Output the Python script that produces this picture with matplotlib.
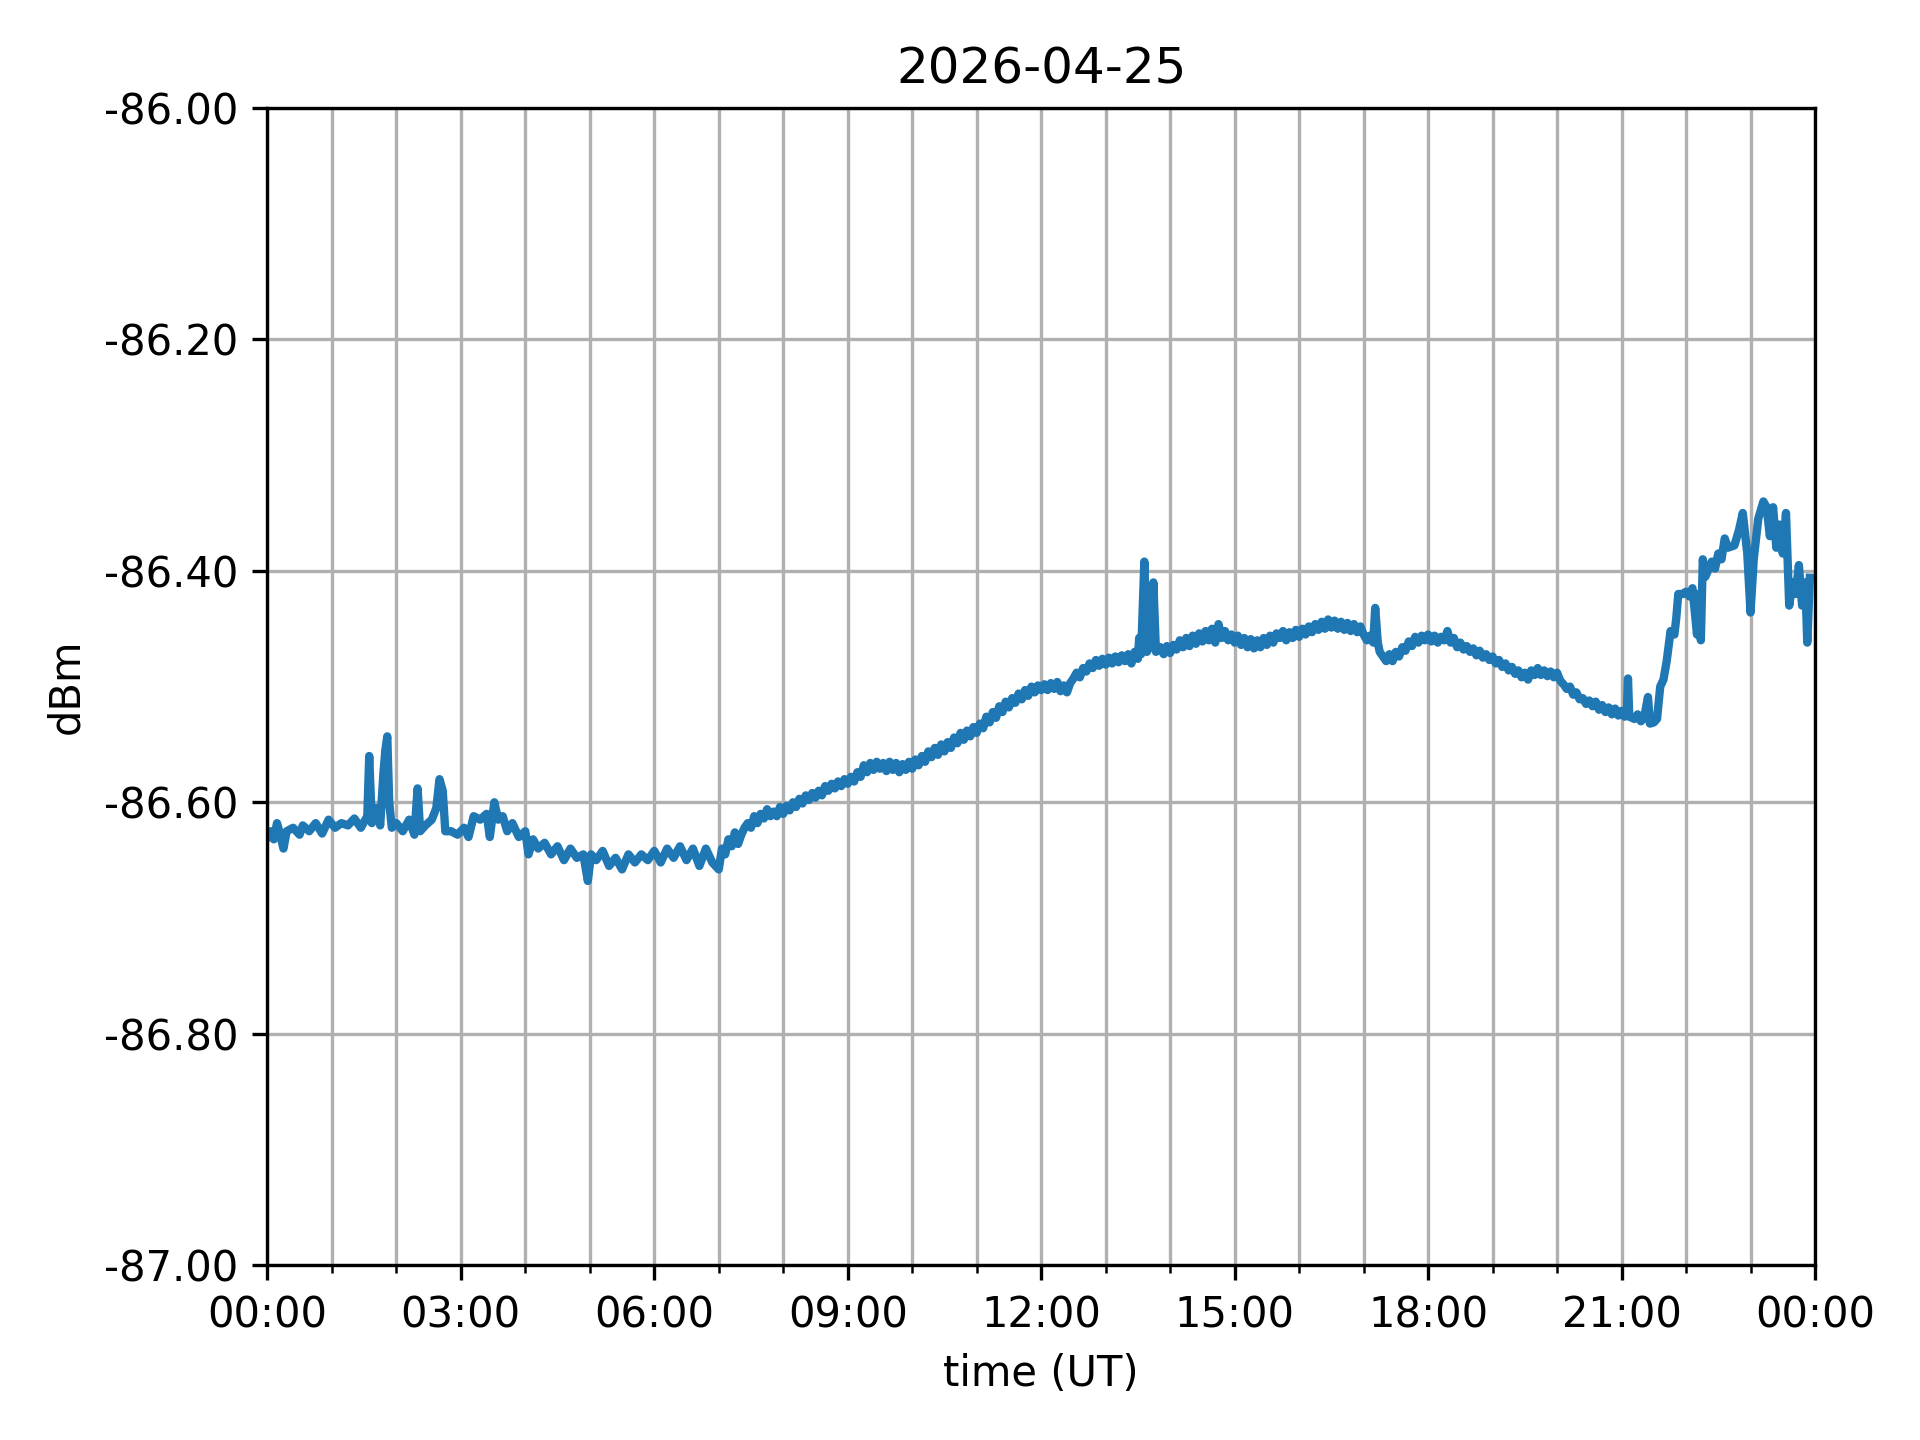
import numpy as np
import pandas as pd
import matplotlib
matplotlib.use('Agg')
import matplotlib.pyplot as plt
import matplotlib.dates as mdates
from matplotlib.ticker import FormatStrFormatter

day = '2026-04-25'

# hours after midnight (UT) and received level in dBm
hours = [
    0.00, 0.05, 0.10, 0.15, 0.20, 0.25, 0.30, 0.40, 0.50, 0.55, 0.65, 0.75, 0.85, 0.95,
    1.05, 1.15, 1.25, 1.35, 1.45, 1.55, 1.58, 1.62, 1.70, 1.75, 1.80, 1.83, 1.86, 1.89, 1.93,
    2.00, 2.10, 2.20, 2.28, 2.33, 2.37, 2.45, 2.55, 2.62, 2.67, 2.72, 2.76, 2.85, 2.95,
    3.05, 3.12, 3.20, 3.30, 3.40, 3.45, 3.52, 3.58, 3.65, 3.72, 3.80, 3.90,
    4.00, 4.05, 4.12, 4.20, 4.30, 4.40, 4.50, 4.60, 4.70, 4.80, 4.90, 4.97,
    5.02, 5.10, 5.20, 5.30, 5.40, 5.50, 5.60, 5.70, 5.80, 5.90,
    6.00, 6.10, 6.20, 6.30, 6.40, 6.50, 6.60, 6.70, 6.80, 6.90,
    7.00, 7.05, 7.10, 7.15, 7.20, 7.25, 7.30, 7.35, 7.40, 7.45, 7.50, 7.55, 7.60, 7.65, 7.70, 7.75, 7.80, 7.85, 7.90, 7.95,
    8.00, 8.05, 8.10, 8.15, 8.20, 8.25, 8.30, 8.35, 8.40, 8.45, 8.50, 8.55, 8.60, 8.65, 8.70, 8.75, 8.80, 8.85, 8.90, 8.95,
    9.00, 9.05, 9.10, 9.15, 9.20, 9.25, 9.30, 9.35, 9.40, 9.45, 9.50, 9.55, 9.60, 9.65, 9.70, 9.75, 9.80, 9.85, 9.90, 9.95,
    10.00, 10.05, 10.10, 10.15, 10.20, 10.25, 10.30, 10.35, 10.40, 10.45, 10.50, 10.55, 10.60, 10.65, 10.70, 10.75, 10.80, 10.85, 10.90, 10.95,
    11.00, 11.05, 11.10, 11.15, 11.20, 11.25, 11.30, 11.35, 11.40, 11.45, 11.50, 11.55, 11.60, 11.65, 11.70, 11.75, 11.80, 11.85, 11.90, 11.95,
    12.00, 12.05, 12.10, 12.15, 12.20, 12.25, 12.30, 12.35, 12.40, 12.45, 12.50, 12.55, 12.60, 12.65, 12.70, 12.75, 12.80, 12.85, 12.90, 12.95,
    13.00, 13.05, 13.10, 13.15, 13.20, 13.25, 13.30, 13.35, 13.40, 13.45, 13.50, 13.52, 13.55, 13.60, 13.64, 13.70, 13.74, 13.78, 13.85, 13.90, 13.95,
    14.00, 14.05, 14.10, 14.15, 14.20, 14.25, 14.30, 14.35, 14.40, 14.45, 14.50, 14.55, 14.60, 14.65, 14.70, 14.75, 14.80, 14.85, 14.90, 14.95,
    15.00, 15.05, 15.10, 15.15, 15.20, 15.25, 15.30, 15.35, 15.40, 15.45, 15.50, 15.55, 15.60, 15.65, 15.70, 15.75, 15.80, 15.85, 15.90, 15.95,
    16.00, 16.05, 16.10, 16.15, 16.20, 16.25, 16.30, 16.35, 16.40, 16.45, 16.50, 16.55, 16.60, 16.65, 16.70, 16.75, 16.80, 16.85, 16.90, 16.95,
    17.00, 17.05, 17.10, 17.15, 17.18, 17.22, 17.25, 17.30, 17.35, 17.40, 17.45, 17.50, 17.55, 17.60, 17.65, 17.70, 17.75, 17.80, 17.85, 17.90, 17.95,
    18.00, 18.05, 18.10, 18.15, 18.20, 18.25, 18.30, 18.35, 18.40, 18.45, 18.50, 18.55, 18.60, 18.65, 18.70, 18.75, 18.80, 18.85, 18.90, 18.95,
    19.00, 19.05, 19.10, 19.15, 19.20, 19.25, 19.30, 19.35, 19.40, 19.45, 19.50, 19.55, 19.60, 19.65, 19.70, 19.75, 19.80, 19.85, 19.90, 19.95,
    20.00, 20.05, 20.10, 20.15, 20.20, 20.25, 20.30, 20.35, 20.40, 20.45, 20.50, 20.55, 20.60, 20.65, 20.70, 20.75, 20.80, 20.85, 20.90, 20.95,
    21.00, 21.05, 21.08, 21.10, 21.12, 21.20, 21.25, 21.30, 21.35, 21.41, 21.44, 21.50, 21.55, 21.60, 21.65, 21.70, 21.76,
    21.82, 21.85, 21.88, 21.95,
    22.00, 22.05, 22.10, 22.17, 22.20, 22.23, 22.26, 22.30, 22.40, 22.45, 22.50, 22.55,
    22.60, 22.65, 22.75, 22.82, 22.88, 22.95,
    23.00, 23.05, 23.12, 23.20, 23.25, 23.30, 23.35, 23.40, 23.45, 23.50, 23.55, 23.60,
    23.65, 23.70, 23.75, 23.80, 23.85, 23.88, 23.92,
]
dbm = [
    -86.630, -86.625, -86.632, -86.618, -86.628, -86.640, -86.625, -86.622, -86.628, -86.620, -86.625, -86.618, -86.627, -86.615,
    -86.622, -86.618, -86.620, -86.614, -86.622, -86.612, -86.560, -86.618, -86.605, -86.620, -86.575, -86.555, -86.543, -86.600, -86.622,
    -86.618, -86.625, -86.615, -86.628, -86.588, -86.625, -86.620, -86.615, -86.605, -86.580, -86.590, -86.625, -86.625, -86.628,
    -86.622, -86.630, -86.612, -86.615, -86.610, -86.630, -86.600, -86.615, -86.612, -86.625, -86.618, -86.630,
    -86.625, -86.645, -86.632, -86.640, -86.635, -86.645, -86.638, -86.650, -86.640, -86.648, -86.645, -86.668,
    -86.645, -86.650, -86.642, -86.655, -86.648, -86.658, -86.645, -86.652, -86.645, -86.650,
    -86.642, -86.652, -86.640, -86.648, -86.638, -86.650, -86.640, -86.655, -86.640, -86.652,
    -86.658, -86.640, -86.645, -86.632, -86.638, -86.626, -86.636, -86.628, -86.622, -86.618, -86.622, -86.612, -86.618, -86.610, -86.614, -86.606, -86.612, -86.608, -86.612, -86.604,
    -86.610, -86.603, -86.607, -86.600, -86.604, -86.597, -86.601, -86.594, -86.598, -86.592, -86.596, -86.590, -86.594, -86.586, -86.590, -86.584, -86.588, -86.582, -86.586, -86.580,
    -86.584, -86.578, -86.582, -86.574, -86.578, -86.568, -86.574, -86.566, -86.572, -86.565, -86.571, -86.566, -86.573, -86.565, -86.572, -86.566, -86.574, -86.567, -86.572, -86.565,
    -86.571, -86.563, -86.568, -86.560, -86.565, -86.556, -86.561, -86.553, -86.559, -86.550, -86.556, -86.548, -86.553, -86.544, -86.549, -86.540, -86.546, -86.538, -86.543, -86.535,
    -86.540, -86.532, -86.536, -86.526, -86.531, -86.522, -86.527, -86.517, -86.522, -86.513, -86.518, -86.510, -86.514, -86.506, -86.511, -86.503, -86.508, -86.500, -86.505, -86.499,
    -86.503, -86.498, -86.503, -86.497, -86.502, -86.496, -86.504, -86.499, -86.505, -86.497, -86.493, -86.488, -86.492, -86.484, -86.487, -86.480, -86.484, -86.477, -86.482, -86.476,
    -86.481, -86.475, -86.480, -86.474, -86.479, -86.473, -86.478, -86.472, -86.480, -86.470, -86.476, -86.458, -86.472, -86.392, -86.470, -86.462, -86.410, -86.470, -86.466, -86.472, -86.465,
    -86.471, -86.464, -86.468, -86.460, -86.466, -86.458, -86.465, -86.456, -86.463, -86.454, -86.461, -86.452, -86.460, -86.450, -86.462, -86.446, -86.458, -86.452, -86.460, -86.455,
    -86.462, -86.456, -86.464, -86.458, -86.466, -86.459, -86.467, -86.460, -86.466, -86.458, -86.464, -86.456, -86.462, -86.454, -86.458, -86.452, -86.460, -86.453, -86.458, -86.451,
    -86.457, -86.450, -86.455, -86.448, -86.453, -86.446, -86.451, -86.444, -86.450, -86.442, -86.449, -86.443, -86.450, -86.444, -86.451, -86.445, -86.452, -86.446, -86.453, -86.448,
    -86.455, -86.460, -86.456, -86.462, -86.432, -86.462, -86.470, -86.474, -86.478, -86.472, -86.478, -86.470, -86.474, -86.466, -86.469, -86.461, -86.465, -86.457, -86.462, -86.456, -86.460,
    -86.455, -86.461, -86.456, -86.462, -86.457, -86.460, -86.452, -86.462, -86.458, -86.466, -86.462, -86.468, -86.465, -86.470, -86.467, -86.473, -86.469, -86.475, -86.472, -86.477,
    -86.474, -86.480, -86.477, -86.483, -86.480, -86.486, -86.483, -86.489, -86.486, -86.492, -86.488, -86.494, -86.486, -86.490, -86.484, -86.490, -86.486, -86.491, -86.487, -86.492,
    -86.488, -86.495, -86.498, -86.502, -86.500, -86.507, -86.505, -86.511, -86.510, -86.515, -86.512, -86.517, -86.513, -86.520, -86.516, -86.522, -86.518, -86.524, -86.519, -86.525,
    -86.521, -86.526, -86.524, -86.493, -86.526, -86.528, -86.524, -86.530, -86.527, -86.509, -86.532, -86.531, -86.528, -86.500, -86.494, -86.478, -86.452,
    -86.455, -86.440, -86.420, -86.420,
    -86.418, -86.422, -86.415, -86.455, -86.420, -86.460, -86.390, -86.405, -86.392, -86.398, -86.385, -86.390,
    -86.372, -86.380, -86.378, -86.365, -86.350, -86.385,
    -86.436, -86.390, -86.355, -86.340, -86.345, -86.370, -86.345, -86.380, -86.360, -86.385, -86.350, -86.430,
    -86.410, -86.420, -86.395, -86.430, -86.410, -86.462, -86.406,
]

t0 = pd.Timestamp(day)
times = t0 + pd.to_timedelta(np.array(hours), unit='h')

fig, ax = plt.subplots(figsize=(6.4, 4.8), dpi=300)
ax.plot(times, dbm, color='#1f77b4', linewidth=2)

ax.set_xlim(t0, t0 + pd.Timedelta(hours=24))
ax.set_ylim(-87, -86)
ax.xaxis.set_major_locator(mdates.HourLocator(byhour=range(0, 24, 3)))
ax.xaxis.set_minor_locator(mdates.HourLocator())
ax.xaxis.set_major_formatter(mdates.DateFormatter('%H:%M'))
ax.yaxis.set_major_formatter(FormatStrFormatter('%.2f'))

ax.grid(True, which='major')
ax.grid(True, which='minor', axis='x')

ax.set_title(day)
ax.set_xlabel('time (UT)')
ax.set_ylabel('dBm')

fig.tight_layout()
plt.savefig('out.png', dpi=300)
